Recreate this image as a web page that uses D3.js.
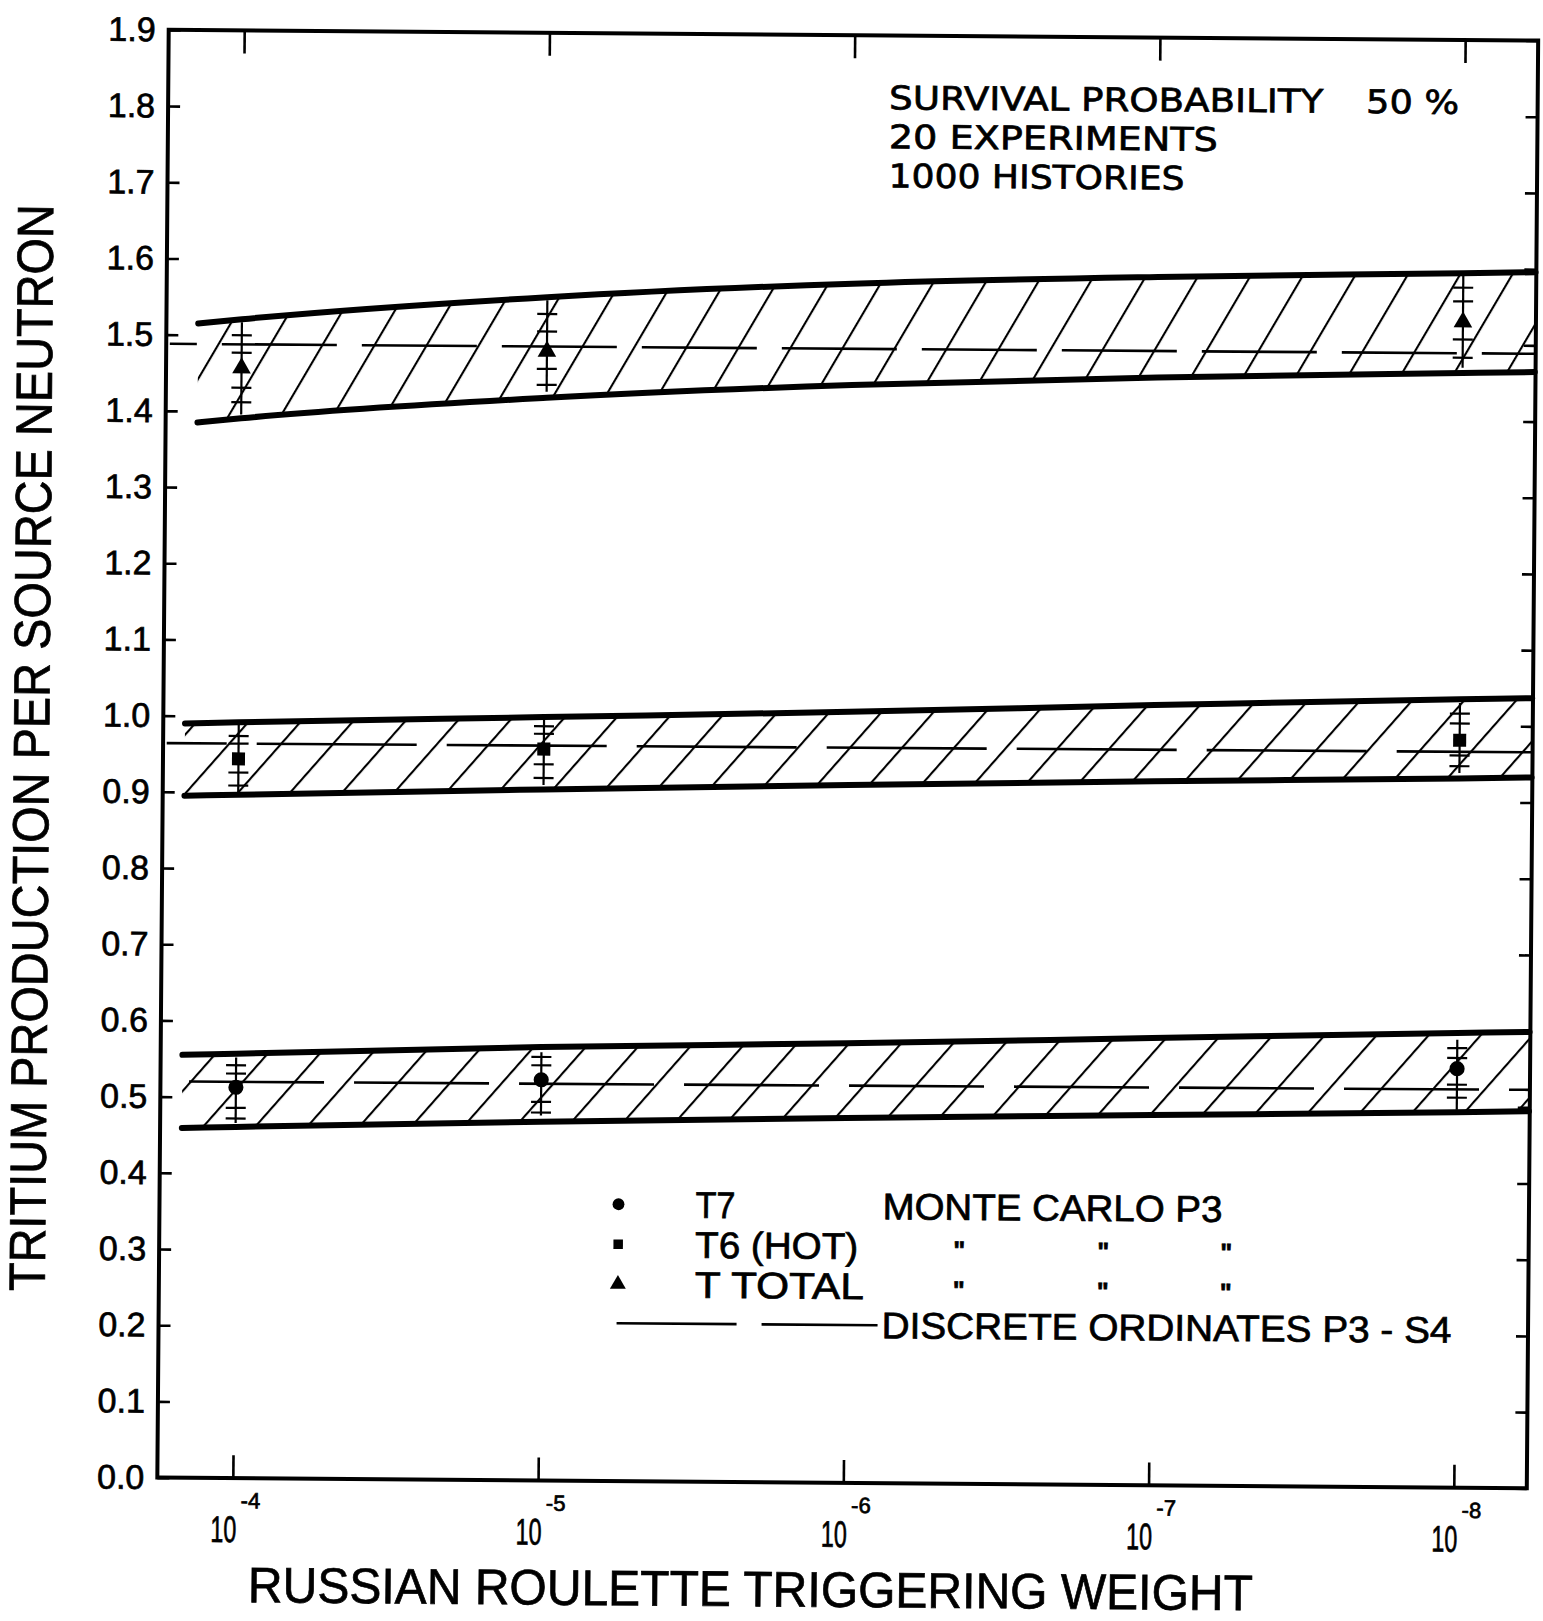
<!DOCTYPE html>
<html>
<head>
<meta charset="utf-8">
<script src="https://cdn.jsdelivr.net/npm/d3@7"></script>
<style>
  body { margin: 0; background: #fff; }
  text { fill: #000; stroke: #000; stroke-width: 0.7px; }
</style>
</head>
<body>
<svg width="1543" height="1621"></svg>
<script>
// ---- data ----
const xTickExps = [-4, -5, -6, -7, -8];
const yTicks = [0.0, 0.1, 0.2, 0.3, 0.4, 0.5, 0.6, 0.7, 0.8, 0.9, 1.0,
                1.1, 1.2, 1.3, 1.4, 1.5, 1.6, 1.7, 1.8, 1.9];

// hatched bands (upper / lower bounds), x = triggering weight
const bandXTotal = [1.39e-4, 1e-4, 1e-5, 1e-6, 1e-7, 1e-8, 5.8e-9];
const totalUpper = [1.515, 1.521, 1.553, 1.574, 1.586, 1.594, 1.596];
const totalLower = [1.385, 1.391, 1.421, 1.441, 1.454, 1.463, 1.465];

const bandX = [1.5e-4, 1e-4, 1e-5, 1e-6, 1e-7, 1e-8, 5.8e-9];
const t6Upper = [0.990, 0.992, 1.002, 1.012, 1.024, 1.035, 1.037];
const t6Lower = [0.895, 0.897, 0.907, 0.916, 0.924, 0.931, 0.933];
const t7Upper = [0.555, 0.557, 0.569, 0.577, 0.587, 0.597, 0.599];
const t7Lower = [0.459, 0.461, 0.471, 0.479, 0.486, 0.493, 0.495];

// discrete ordinates P3-S4 (dashed), at the two ends of the axis
const doX = [1.72e-4, 5.8e-9];
const doTotal = [1.488, 1.489];
const doT6 = [0.964, 0.966];
const doT7 = [0.520, 0.523];

// Monte Carlo points with error bars
const ptX = [1e-4, 1e-5, 1e-8];
const totalPts = [1.457, 1.482, 1.530];
const totalLo = [1.396, 1.429, 1.470];
const totalHi = [1.517, 1.549, 1.594];
const totalTicks = [[1.412, 1.431, 1.477, 1.500], [1.438, 1.459, 1.508, 1.531], [1.483, 1.507, 1.557, 1.575]];
const t6Pts = [0.944, 0.960, 0.981];
const t6Lo = [0.896, 0.913, 0.938];
const t6Hi = [0.990, 1.000, 1.030];
const t6Ticks = [[0.909, 0.926, 0.964, 0.974], [0.922, 0.940, 0.980, 0.990], [0.947, 0.961, 1.003, 1.016]];
const t7Pts = [0.513, 0.526, 0.550];
const t7Lo = [0.466, 0.479, 0.496];
const t7Hi = [0.552, 0.562, 0.588];
const t7Ticks = [[0.472, 0.486, 0.531, 0.542], [0.483, 0.497, 0.545, 0.556], [0.512, 0.529, 0.564, 0.577]];

// ---- drawing ----
const svg = d3.select('svg');

const plotLeft = 163, plotRight = 1532.5;
const x = d3.scaleLog().domain([1e-4, 1e-8]).range([238.5, 1459.5]);
const y = d3.scaleLinear().domain([0, 1.9]).range([1483, 35.2]);
const plotTop = y(1.9), plotBottom = y(0);

const sans = '"Liberation Sans", Arial, sans-serif';
const dejavu = '"DejaVu Sans", sans-serif';

// the scan is turned a little clockwise
const g = svg.append('g').attr('transform', 'rotate(0.45, 848, 759)');

const defs = svg.append('defs');

function hatch(id, angle, gap) {
  const p = defs.append('pattern')
    .attr('id', id)
    .attr('patternUnits', 'userSpaceOnUse')
    .attr('width', gap)
    .attr('height', 20)
    .attr('patternTransform', `rotate(${90 - angle})`);
  p.append('line')
    .attr('x1', 1).attr('y1', 0)
    .attr('x2', 1).attr('y2', 20)
    .attr('stroke', '#000')
    .attr('stroke-width', 2.2);
}
hatch('hatchTop', 60, 45);
hatch('hatchMid', 49, 39);
hatch('hatchLow', 49, 39);

const bands = [
  { xs: bandXTotal, up: totalUpper, lo: totalLower, pat: 'hatchTop', dash: '115,25', dOff: 88, dv: doTotal },
  { xs: bandX, up: t6Upper, lo: t6Lower, pat: 'hatchMid', dash: '160,30', dOff: 100, dv: doT6 },
  { xs: bandX, up: t7Upper, lo: t7Lower, pat: 'hatchLow', dash: '135,30', dOff: 140, dv: doT7 }
];

const area = d3.area().curve(d3.curveMonotoneX);
const line = d3.line().curve(d3.curveMonotoneX);

bands.forEach(b => {
  const up = b.xs.map((v, i) => [x(v), y(b.up[i])]);
  const lo = b.xs.map((v, i) => [x(v), y(b.lo[i])]);

  g.append('path')
    .attr('d', area.x(d => d[0]).y0((d, i) => lo[i][1]).y1(d => d[1])(up))
    .attr('fill', `url(#${b.pat})`);

  g.append('path')
    .attr('d', line([[x(doX[0]), y(b.dv[0])], [x(doX[1]), y(b.dv[1])]]))
    .attr('fill', 'none')
    .attr('stroke', '#000')
    .attr('stroke-width', 2.6)
    .attr('stroke-dasharray', b.dash)
    .attr('stroke-dashoffset', b.dOff);

  [up, lo].forEach(pts => {
    g.append('path')
      .attr('d', line(pts))
      .attr('fill', 'none')
      .attr('stroke', '#000')
      .attr('stroke-width', 6)
      .attr('stroke-linecap', 'round');
  });
});

// error bars and markers
const series = [
  { v: totalPts, lo: totalLo, hi: totalHi, ticks: totalTicks, sym: d3.symbolTriangle, size: 150 },
  { v: t6Pts, lo: t6Lo, hi: t6Hi, ticks: t6Ticks, sym: d3.symbolSquare, size: 170 },
  { v: t7Pts, lo: t7Lo, hi: t7Hi, ticks: t7Ticks, sym: d3.symbolCircle, size: 180 }
];

series.forEach(s => {
  ptX.forEach((px, i) => {
    const cx = x(px);
    g.append('line')
      .attr('x1', cx).attr('x2', cx)
      .attr('y1', y(s.lo[i])).attr('y2', y(s.hi[i]))
      .attr('stroke', '#000').attr('stroke-width', 2.2);
    s.ticks[i].forEach(t => {
      g.append('line')
        .attr('x1', cx - 10).attr('x2', cx + 10)
        .attr('y1', y(t)).attr('y2', y(t))
        .attr('stroke', '#000').attr('stroke-width', 2.2);
    });
    g.append('path')
      .attr('d', d3.symbol().type(s.sym).size(s.size)())
      .attr('transform', `translate(${cx},${y(s.v[i])})`)
      .attr('fill', '#000');
  });
});

// axes (ticks point inward on all four sides)
const xTickVals = xTickExps.map(e => Math.pow(10, e));

const yAxisL = g.append('g')
  .attr('transform', `translate(${plotLeft},0)`)
  .call(d3.axisLeft(y).tickValues(yTicks).tickSize(-12).tickPadding(13).tickFormat(d3.format('.1f')));
const yAxisR = g.append('g')
  .attr('transform', `translate(${plotRight},0)`)
  .call(d3.axisRight(y).tickValues(yTicks).tickSize(-12).tickFormat(''));
const xAxisT = g.append('g')
  .attr('transform', `translate(0,${plotTop})`)
  .call(d3.axisTop(x).tickValues(xTickVals).tickSize(-23).tickFormat(''));
const xAxisB = g.append('g')
  .attr('transform', `translate(0,${plotBottom})`)
  .call(d3.axisBottom(x).tickValues(xTickVals).tickSize(-23).tickFormat(''));

[yAxisL, yAxisR, xAxisT, xAxisB].forEach(a => {
  a.select('.domain').remove();
  a.selectAll('.tick line').attr('stroke', '#000').attr('stroke-width', 2.6);
});
yAxisL.selectAll('.tick text')
  .attr('font-family', sans)
  .attr('font-size', 34)
  .attr('fill', '#000');

g.append('rect')
  .attr('x', plotLeft).attr('y', plotTop)
  .attr('width', plotRight - plotLeft).attr('height', plotBottom - plotTop)
  .attr('fill', 'none')
  .attr('stroke', '#000')
  .attr('stroke-width', 4);

// x tick labels: 10 with a superscript exponent, one text each
const xl = g.append('g').selectAll('text')
  .data(xTickExps)
  .join('text')
  .attr('x', d => x(Math.pow(10, d)) - 22)
  .attr('y', 1547)
  .attr('font-family', sans)
  .attr('font-size', 37);
xl.append('tspan')
  .attr('textLength', 26)
  .attr('lengthAdjust', 'spacingAndGlyphs')
  .text('10');
xl.append('tspan')
  .attr('dx', 4)
  .attr('dy', -34)
  .attr('font-size', 22)
  .text(d => '-' + (-d));

// axis titles
g.append('text')
  .attr('x', 757).attr('y', 1607)
  .attr('text-anchor', 'middle')
  .attr('font-family', sans)
  .attr('font-size', 50)
  .attr('textLength', 1005)
  .attr('lengthAdjust', 'spacingAndGlyphs')
  .text('RUSSIAN ROULETTE TRIGGERING WEIGHT');

g.append('text')
  .attr('transform', 'translate(49,754) rotate(-90)')
  .attr('text-anchor', 'middle')
  .attr('font-family', sans)
  .attr('font-size', 51)
  .attr('textLength', 1087)
  .attr('lengthAdjust', 'spacingAndGlyphs')
  .text('TRITIUM PRODUCTION PER SOURCE NEUTRON');

// run conditions
const notes = [
  { t: 'SURVIVAL PROBABILITY', x: 884, y: 109, w: 434 },
  { t: '50 %', x: 1361, y: 109, w: 93 },
  { t: '20 EXPERIMENTS', x: 884, y: 148, w: 329 },
  { t: '1000 HISTORIES', x: 884, y: 187, w: 296 }
];
g.append('g').selectAll('text')
  .data(notes)
  .join('text')
  .attr('x', d => d.x).attr('y', d => d.y)
  .attr('font-family', dejavu)
  .attr('font-size', 32.5)
  .attr('textLength', d => d.w)
  .attr('lengthAdjust', 'spacingAndGlyphs')
  .text(d => d.t);

// legend
const leg = g.append('g');
const legRows = [
  { sym: d3.symbolCircle, size: 110, label: 'T7', lw: 40 },
  { sym: d3.symbolSquare, size: 90, label: 'T6 (HOT)', lw: 163 },
  { sym: d3.symbolTriangle, size: 110, label: 'T  TOTAL', lw: 169 }
];
const rowBase = [1219, 1259, 1299, 1338];
legRows.forEach((r, i) => {
  leg.append('path')
    .attr('d', d3.symbol().type(r.sym).size(r.size)())
    .attr('transform', `translate(622,${rowBase[i] - 13})`)
    .attr('fill', '#000');
  leg.append('text')
    .attr('x', 699).attr('y', rowBase[i])
    .attr('font-family', sans).attr('font-size', 37)
    .attr('textLength', r.lw).attr('lengthAdjust', 'spacingAndGlyphs')
    .text(r.label);
  if (i === 0) {
    leg.append('text')
      .attr('x', 886).attr('y', rowBase[i])
      .attr('font-family', sans).attr('font-size', 37)
      .attr('textLength', 340).attr('lengthAdjust', 'spacingAndGlyphs')
      .text('MONTE  CARLO   P3');
  } else {
    // ditto marks
    [963, 1107, 1230].forEach(qx => {
      leg.append('text')
        .attr('x', qx).attr('y', rowBase[i] - 1)
        .attr('text-anchor', 'middle')
        .attr('font-family', sans).attr('font-size', 25)
        .attr('font-weight', 'bold')
        .text('"');
    });
  }
});
[[621, 741], [766, 882]].forEach(s => {
  leg.append('line')
    .attr('x1', s[0]).attr('x2', s[1])
    .attr('y1', rowBase[3] - 13).attr('y2', rowBase[3] - 13)
    .attr('stroke', '#000').attr('stroke-width', 2.6);
});
leg.append('text')
  .attr('x', 886).attr('y', rowBase[3])
  .attr('font-family', sans).attr('font-size', 37)
  .attr('textLength', 570).attr('lengthAdjust', 'spacingAndGlyphs')
  .text('DISCRETE  ORDINATES  P3 - S4');
</script>
</body>
</html>
